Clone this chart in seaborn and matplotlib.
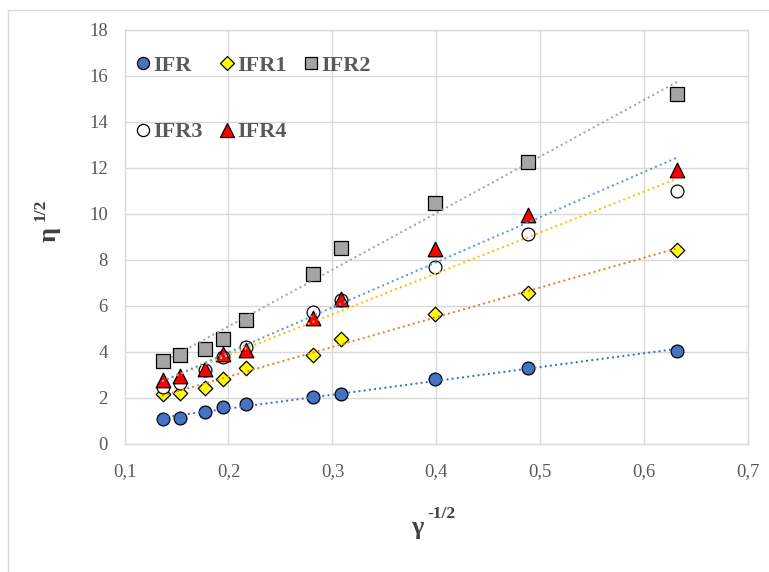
import numpy as np
import pandas as pd
import matplotlib
matplotlib.use("Agg")
import matplotlib.pyplot as plt
from matplotlib.lines import Line2D
import seaborn as sns

# Shear-rate axis (gamma^-1/2) shared by every sample
gamma_inv_sqrt = [0.137, 0.1534, 0.177, 0.1947, 0.2168, 0.281, 0.3082, 0.3986, 0.488, 0.631]

# Square root of viscosity for each sample
ifr = [1.07, 1.11, 1.37, 1.59, 1.72, 2.02, 2.15, 2.81, 3.29, 4.03]
ifr1 = [2.15, 2.19, 2.42, 2.81, 3.29, 3.85, 4.55, 5.64, 6.55, 8.42]
ifr2 = [3.59, 3.85, 4.11, 4.55, 5.38, 7.38, 8.51, 10.47, 12.25, 15.21]
ifr3 = [2.46, 2.63, 3.20, 3.77, 4.20, 5.73, 6.25, 7.68, 9.12, 10.99]
ifr4 = [2.76, 2.94, 3.24, 3.90, 4.07, 5.46, 6.29, 8.47, 9.94, 11.90]

series_names = ["IFR", "IFR1", "IFR2", "IFR3", "IFR4"]
series_values = [ifr, ifr1, ifr2, ifr3, ifr4]

x_ticks = [0.1, 0.2, 0.3, 0.4, 0.5, 0.6, 0.7]
x_tick_labels = ["0,1", "0,2", "0,3", "0,4", "0,5", "0,6", "0,7"]
y_ticks = [0, 2, 4, 6, 8, 10, 12, 14, 16, 18]

# Marker styles and trendline colours per sample
styles = {
    "IFR":  dict(marker="o", fc="#4472C4", s=85, trend="#4472C4"),
    "IFR1": dict(marker="D", fc="#FFFF00", s=55, trend="#ED7D31"),
    "IFR2": dict(marker="s", fc="#A5A5A5", s=90, trend="#A5A5A5"),
    "IFR3": dict(marker="o", fc="#FFFFFF", s=85, trend="#FFC000"),
    "IFR4": dict(marker="^", fc="#FF0000", s=110, trend="#5B9BD5"),
}

frames = []
for name, vals in zip(series_names, series_values):
    frames.append(pd.DataFrame({"x": gamma_inv_sqrt, "y": vals, "sample": name}))
df = pd.concat(frames, ignore_index=True)

sns.set_theme(style="white")
plt.rcParams["font.family"] = ["Liberation Serif", "DejaVu Serif"]

fig = plt.figure(figsize=(7.69, 5.72), dpi=100)
ax = fig.add_axes([0.1619, 0.2246, 0.8112, 0.723])

handles = {}
for i, name in enumerate(series_names):
    st = styles[name]
    sub = df[df["sample"] == name]
    sns.scatterplot(data=sub, x="x", y="y", ax=ax, marker=st["marker"],
                    color=st["fc"], edgecolor="black", linewidth=0.9,
                    s=st["s"], zorder=3 + i, legend=False)
    sns.regplot(data=sub, x="x", y="y", ax=ax, scatter=False, ci=None,
                line_kws=dict(color=st["trend"], lw=1.7,
                              linestyle=(0, (0.01, 2.2)),
                              dash_capstyle="round", zorder=10))
    handles[name] = Line2D([], [], linestyle="none", marker=st["marker"],
                           markerfacecolor=st["fc"], markeredgecolor="black",
                           markeredgewidth=0.9,
                           markersize=np.sqrt(st["s"]) * 0.95)

ax.set_xlim(0.1, 0.7)
ax.set_ylim(0, 18)
ax.set_xticks(x_ticks)
ax.set_xticklabels(x_tick_labels)
ax.set_yticks(y_ticks)
ax.tick_params(axis="both", length=0, labelsize=13.5, labelcolor="#595959")
ax.tick_params(axis="x", pad=14)
ax.tick_params(axis="y", pad=12)
ax.grid(True, color="#D9D9D9", lw=1)
ax.set_axisbelow(True)
for sp in ax.spines.values():
    sp.set_color("#D9D9D9")
    sp.set_linewidth(1)

ax.set_xlabel("")
ax.set_ylabel("")
# Axis titles: bold symbol with a smaller bold exponent
fig.text(0.543, 0.077, "γ", fontsize=19, fontweight="bold", color="#404040",
         ha="center", va="center")
fig.text(0.574, 0.101, "-1/2", fontsize=12.5, fontweight="bold", color="#404040",
         ha="center", va="center")
fig.text(0.064, 0.59, "η", fontsize=19, fontweight="bold", color="#404040",
         ha="center", va="center", rotation=90)
fig.text(0.053, 0.634, "1/2", fontsize=12.5, fontweight="bold", color="#404040",
         ha="center", va="center", rotation=90)

order = ["IFR", "IFR3", "IFR1", "IFR4", "IFR2"]
leg = ax.legend([handles[n] for n in order], order, ncol=3, frameon=False,
                loc="upper left", bbox_to_anchor=(0.0, 0.969),
                prop=dict(family="Liberation Serif", weight="bold", size=16),
                labelspacing=2.08, columnspacing=0.8, handletextpad=0.15,
                handlelength=0.6, borderaxespad=0.15)
for t in leg.get_texts():
    t.set_color("#595959")

# Chart-area frame (left and top edges)
fig.add_artist(Line2D([8 / 769, 8 / 769], [0, 1 - 10 / 572],
                      transform=fig.transFigure, color="#D9D9D9", lw=1))
fig.add_artist(Line2D([8 / 769, 1], [1 - 10 / 572, 1 - 10 / 572],
                      transform=fig.transFigure, color="#D9D9D9", lw=1))

fig.savefig("out.png", dpi=100, facecolor="white")
